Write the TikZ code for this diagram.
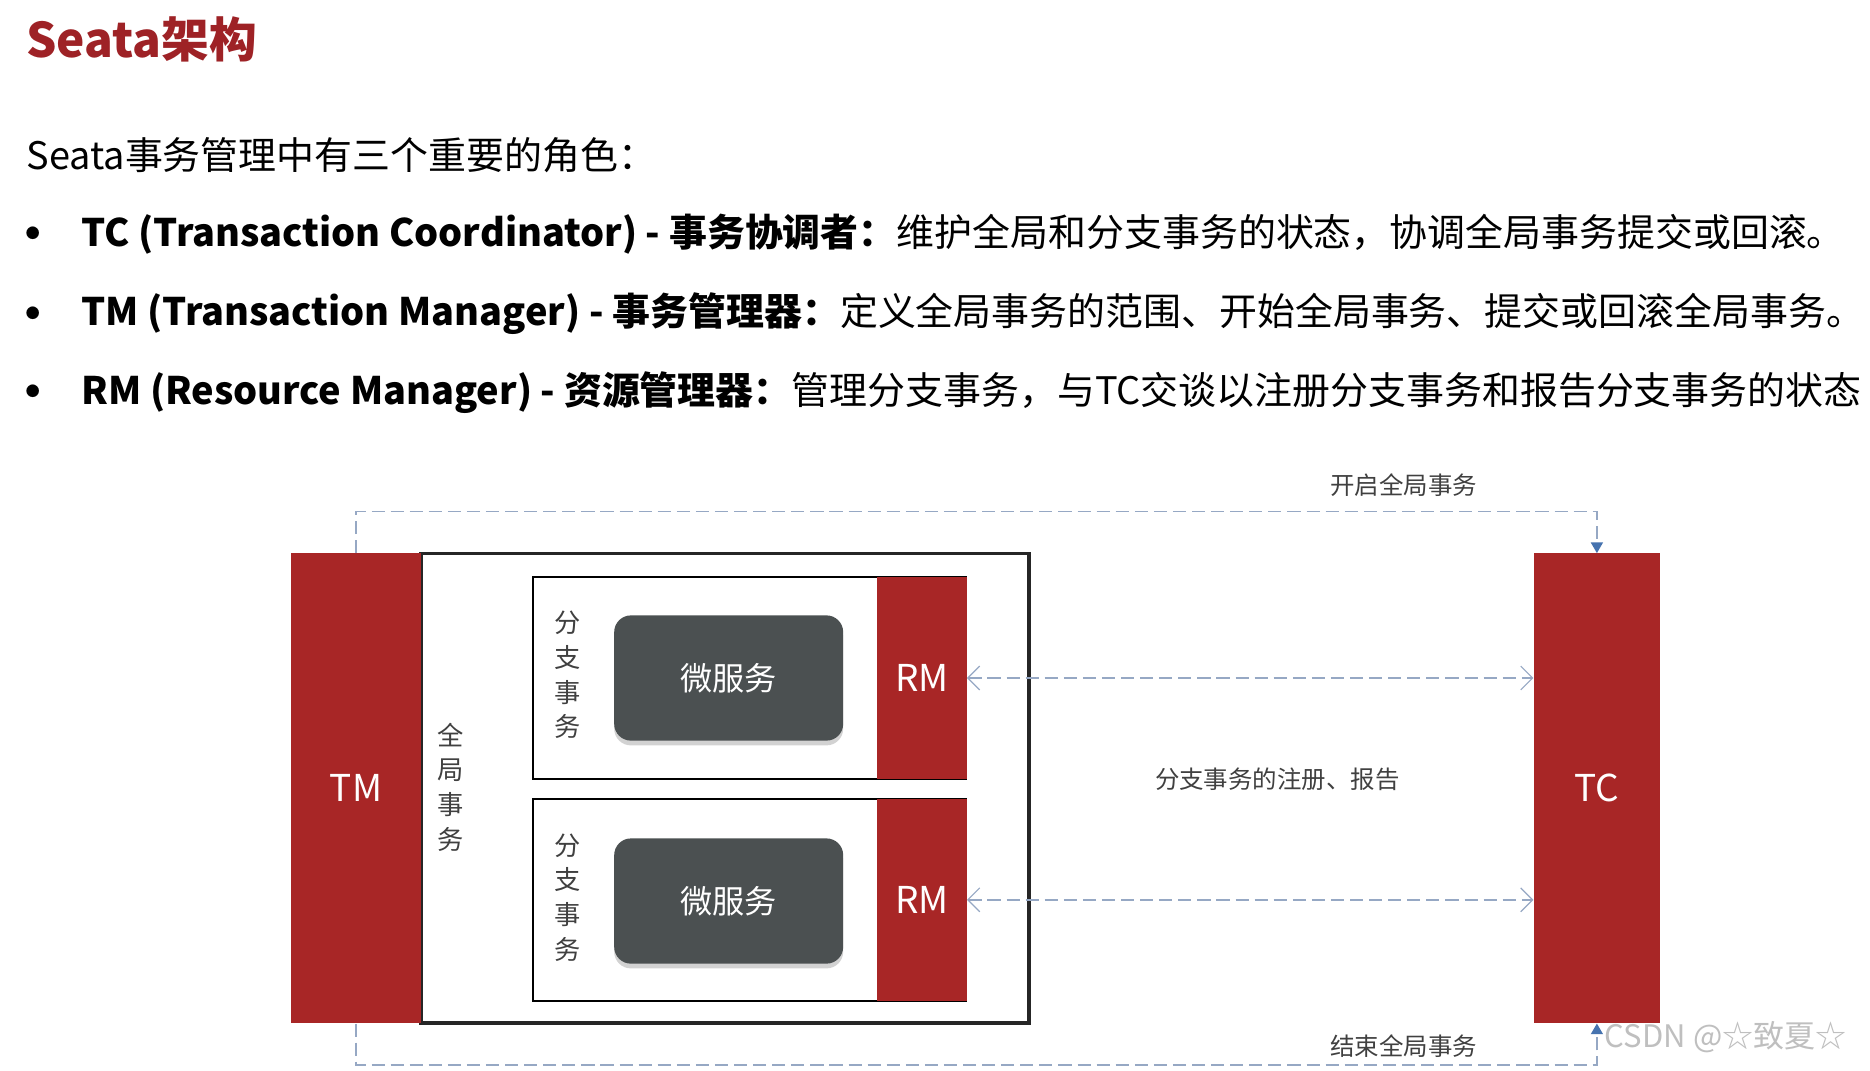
\documentclass[tikz,border=0pt]{standalone}
\usepackage{fontspec}
\setmainfont{Noto Sans CJK SC}
\usepackage{xcolor}
\usepackage{tikz}
\usetikzlibrary{arrows.meta,positioning,shadows}
\definecolor{seatared}{RGB}{168,38,38}
\definecolor{titlered}{RGB}{158,34,38}
\definecolor{msgray}{RGB}{75,80,81}
\definecolor{dashblue}{RGB}{150,168,196}
\definecolor{tipblue}{RGB}{70,115,175}
\definecolor{labelgray}{RGB}{64,64,64}

\begin{document}
\begin{tikzpicture}[x=1pt, y=1pt,
  every node/.style = {inner sep=0pt},
  head/.style   = {anchor=west, font=\fontsize{40}{48}\selectfont\bfseries, text=titlered},
  para/.style   = {anchor=west, font=\fontsize{31.8}{38}\selectfont},
  dot/.style    = {font=\fontsize{38}{44}\selectfont\bfseries},
  redbar/.style = {fill=seatared, text=white, font=\fontsize{31}{37}\selectfont},
  frame/.style  = {draw=black!85, line width=3pt, fill=white},
  branch/.style = {draw=black, line width=1.6pt, fill=white,
                   minimum width=363pt, minimum height=169pt},
  svc/.style    = {fill=msgray, rounded corners=14pt, text=white,
                   minimum width=192pt, minimum height=105pt,
                   font=\fontsize{27}{32}\selectfont,
                   drop shadow={shadow xshift=0pt, shadow yshift=-4pt, opacity=0.35}},
  vtxt/.style   = {align=center, text=black!75, font=\fontsize{22}{29}\selectfont},
  note/.style   = {text=labelgray, font=\fontsize{20.5}{25}\selectfont},
  gflow/.style  = {draw=dashblue, line width=1.5pt, dash pattern=on 11pt off 5pt,
                   -{Triangle[length=9pt, width=10pt, color=tipblue, fill=tipblue]}},
  reg/.style    = {draw=dashblue, line width=1.5pt, dash pattern=on 11pt off 5pt,
                   {Straight Barb[length=10pt, width=20pt, line width=1pt]}-{Straight Barb[length=10pt, width=20pt, line width=1pt]}},
  wmark/.style  = {text=black!25, font=\fontsize{26}{31}\selectfont},
]
\useasboundingbox[fill=white] (0,0) rectangle (1568,-898);

%% ---------- 标题与说明 ----------
\node[head] (title) at (22,-33)  {Seata架构};
\node[para] (intro) at (22,-130) {Seata事务管理中有三个重要的角色：};

\node[dot]  (d1) at (28,-200) {·};
\node[para] (t1) at (68,-196) {\textbf{TC (Transaction Coordinator) - 事务协调者：}维护全局和分支事务的状态，协调全局事务提交或回滚。};
\node[dot]  (d2) at (28,-267) {·};
\node[para] (t2) at (68,-263) {\textbf{TM (Transaction Manager) - 事务管理器：}定义全局事务的范围、开始全局事务、提交或回滚全局事务。};
\node[dot]  (d3) at (28,-333) {·};
\node[para] (t3) at (68,-329) {\textbf{RM (Resource Manager) - 资源管理器：}管理分支事务，与TC交谈以注册分支事务和报告分支事务的状态};

%% ---------- 全局事务 ----------
\node[frame, minimum width=510pt, minimum height=394pt] (gtx) at (608,-661) {};
\node[redbar, minimum width=109pt, minimum height=394pt] (TM) at (298.5,-661) {TM};
\node[redbar, minimum width=106pt, minimum height=394pt] (TC) at (1339,-661) {TC};
\node[vtxt] (gl) at (378,-660) {全\\局\\事\\务};

%% ---------- 分支事务 ----------
\node[branch] (B1) at (628.5,-568.5) {};
\node[redbar, minimum width=75pt, minimum height=169pt, anchor=east] (RM1) at (B1.east) {RM};
\node[svc]  (S1)  at (611,-568.5) {微服务};
\node[vtxt] (bl1) at (476,-566)   {分\\支\\事\\务};

\node[branch] (B2) at (628.5,-754.5) {};
\node[redbar, minimum width=75pt, minimum height=169pt, anchor=east] (RM2) at (B2.east) {RM};
\node[svc]  (S2)  at (611,-755.5) {微服务};
\node[vtxt] (bl2) at (476,-752.5) {分\\支\\事\\务};

%% ---------- 连线 ----------
\draw[reg](RM1.east)--(RM1.east -| TC.west);
\draw[reg](RM2.east)--(RM2.east -| TC.west);
\node[note] (regl) at (1071,-653) {分支事务的注册、报告};

\draw[gflow](TM.north)--++(0,35)-|(TC.north);
\node[note] (open) at (1177,-407) {开启全局事务};

\draw[gflow](TM.south)--++(0,-35)-|(TC.south);
\node[note] (close) at (1177,-877) {结束全局事务};

\node[wmark] (wm) at (1447,-870) {CSDN @☆致夏☆};

\end{tikzpicture}
\end{document}
